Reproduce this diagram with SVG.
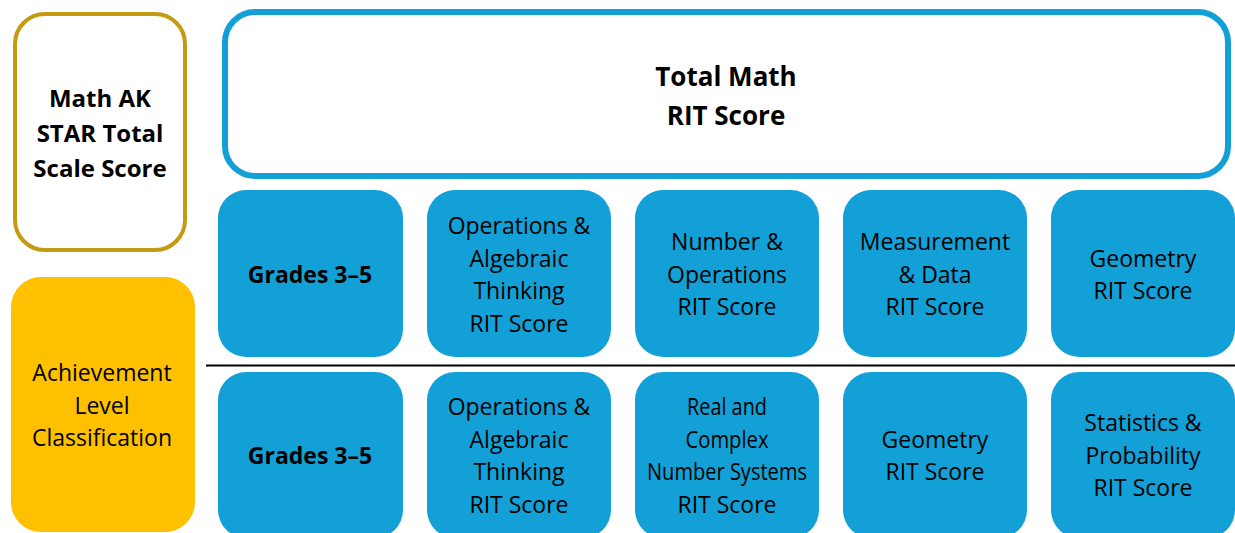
<svg xmlns="http://www.w3.org/2000/svg" width="1235" height="533" viewBox="0 0 1235 533">
<style>
text{font-family:"Open Sans",Lato,"Liberation Sans",sans-serif;fill:#000;text-anchor:middle}
.t{font-size:23px}
.b{font-size:23px;font-weight:bold}
.bl{font-size:26px;font-weight:bold}
.bm{font-size:24px;font-weight:bold}
.tile{fill:#12A0D7}
</style>
<rect width="1235" height="533" fill="#fff"/>
<g id="star-total">
<rect x="15" y="14" width="170" height="236" rx="30" fill="#fff" stroke="#C49A10" stroke-width="4"/>
<text class="bm" x="100" y="107">Math AK</text>
<text class="bm" x="100" y="142">STAR Total</text>
<text class="bm" x="100" y="177">Scale Score</text>
</g>
<g id="total-math">
<rect x="225" y="12" width="1003" height="164" rx="30" fill="#fff" stroke="#12A0D7" stroke-width="6"/>
<text class="bl" x="726" y="86">Total Math</text>
<text class="bl" x="726" y="125">RIT Score</text>
</g>
<g id="achievement">
<rect x="11" y="277" width="184" height="255" rx="30" fill="#FFC000"/>
<text class="t" x="102" y="381">Achievement</text>
<text class="t" x="102" y="414">Level</text>
<text class="t" x="102" y="446">Classification</text>
</g>
<g id="divider">
<line x1="206" y1="365.5" x2="1235" y2="365.5" stroke="#000" stroke-width="2"/>
</g>
<g id="r1-grades">
<rect class="tile" x="218" y="190" width="185" height="167" rx="28"/>
<text class="b" x="310" y="283">Grades 3–5</text>
</g>
<g id="r1-oa">
<rect class="tile" x="427" y="190" width="184" height="167" rx="28"/>
<text class="t" x="519" y="234">Operations &amp;</text>
<text class="t" x="519" y="266.5">Algebraic</text>
<text class="t" x="519" y="299">Thinking</text>
<text class="t" x="519" y="331.5">RIT Score</text>
</g>
<g id="r1-nbt">
<rect class="tile" x="635" y="190" width="184" height="167" rx="28"/>
<text class="t" x="727" y="250">Number &amp;</text>
<text class="t" x="727" y="282.5">Operations</text>
<text class="t" x="727" y="315">RIT Score</text>
</g>
<g id="r1-md">
<rect class="tile" x="843" y="190" width="184" height="167" rx="28"/>
<text class="t" x="935" y="250">Measurement</text>
<text class="t" x="935" y="282.5">&amp; Data</text>
<text class="t" x="935" y="315">RIT Score</text>
</g>
<g id="r1-geo">
<rect class="tile" x="1051" y="190" width="184" height="167" rx="28"/>
<text class="t" x="1143" y="266.5">Geometry</text>
<text class="t" x="1143" y="299">RIT Score</text>
</g>
<g id="r2-grades">
<rect class="tile" x="218" y="372" width="185" height="166" rx="28"/>
<text class="b" x="310" y="464">Grades 3–5</text>
</g>
<g id="r2-oa">
<rect class="tile" x="427" y="372" width="184" height="166" rx="28"/>
<text class="t" x="519" y="415">Operations &amp;</text>
<text class="t" x="519" y="447.5">Algebraic</text>
<text class="t" x="519" y="480">Thinking</text>
<text class="t" x="519" y="512.5">RIT Score</text>
</g>
<g id="r2-ns">
<rect class="tile" x="635" y="372" width="184" height="166" rx="28"/>
<text class="t" x="727" y="415" textLength="80" lengthAdjust="spacingAndGlyphs">Real and</text>
<text class="t" x="727" y="447.5" textLength="83" lengthAdjust="spacingAndGlyphs">Complex</text>
<text class="t" x="727" y="480" textLength="160" lengthAdjust="spacingAndGlyphs">Number Systems</text>
<text class="t" x="727" y="512.5">RIT Score</text>
</g>
<g id="r2-geo">
<rect class="tile" x="843" y="372" width="184" height="166" rx="28"/>
<text class="t" x="935" y="447.5">Geometry</text>
<text class="t" x="935" y="480">RIT Score</text>
</g>
<g id="r2-sp">
<rect class="tile" x="1051" y="372" width="184" height="166" rx="28"/>
<text class="t" x="1143" y="431">Statistics &amp;</text>
<text class="t" x="1143" y="463.5">Probability</text>
<text class="t" x="1143" y="496">RIT Score</text>
</g>
</svg>
